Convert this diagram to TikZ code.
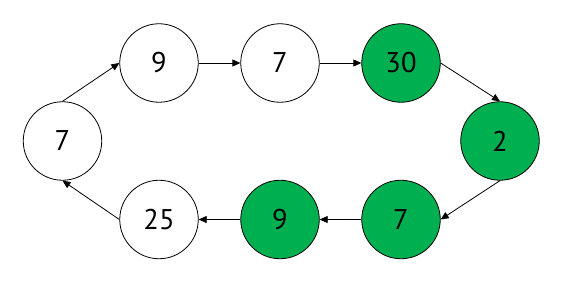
\documentclass[tikz,border=0pt]{standalone}
\usepackage{fontspec}
\setmainfont{PT Sans}
\usetikzlibrary{arrows.meta}
\definecolor{nodegreen}{HTML}{00B050}
\begin{document}
\begin{tikzpicture}[x=1pt,y=-1pt,
  nd/.style={circle,draw=black,line width=0.8pt,minimum size=78.5pt,inner sep=0pt,font=\fontsize{28.5}{31}\selectfont},
  gn/.style={nd,fill=nodegreen},
  wn/.style={nd,fill=white},
  conn/.style={line width=0.8pt,-{Triangle[length=8pt,width=7pt]}}]
\useasboundingbox (0,0) rectangle (565,283);
\node[wn] (a) at (62.5,141) {7};
\node[wn] (b) at (159,63) {9};
\node[wn] (c) at (280,63) {7};
\node[gn] (d) at (401,63) {30};
\node[gn] (e) at (500,141) {2};
\node[gn] (f) at (401,219.5) {7};
\node[gn] (g) at (280,219.5) {9};
\node[wn] (h) at (159,219.5) {25};
\draw[conn] (a.north) -- (b.west);
\draw[conn] (b.east) -- (c.west);
\draw[conn] (c.east) -- (d.west);
\draw[conn] (d.east) -- (e.north);
\draw[conn] (e.south) -- (f.east);
\draw[conn] (f.west) -- (g.east);
\draw[conn] (g.west) -- (h.east);
\draw[conn] (h.west) -- (a.south);
\end{tikzpicture}
\end{document}
